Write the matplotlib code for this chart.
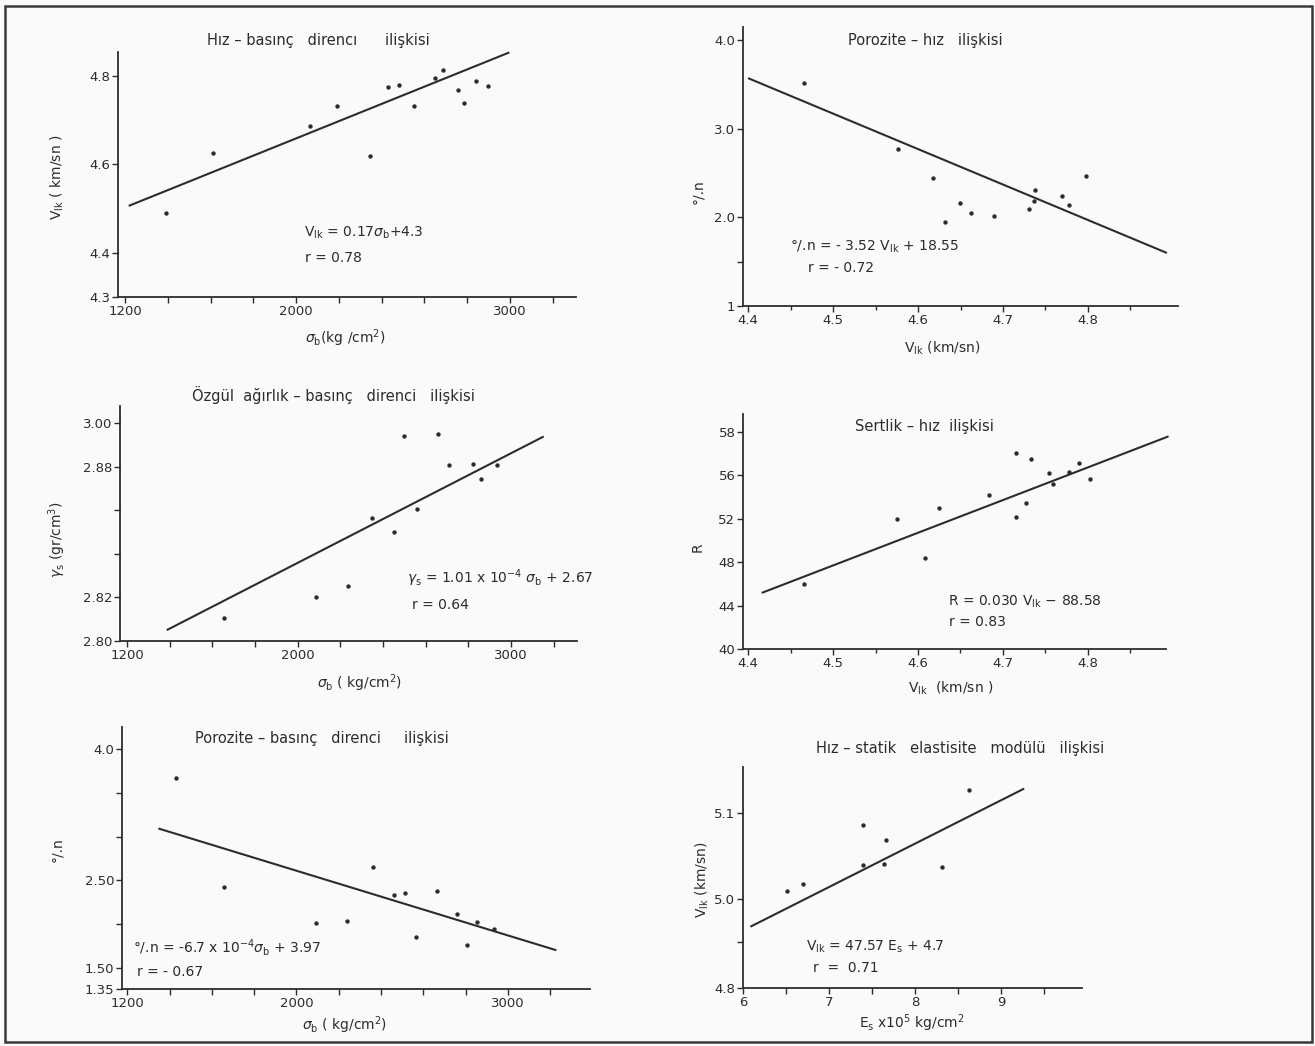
import matplotlib
matplotlib.use("Agg")
import matplotlib.pyplot as plt
from matplotlib.patches import Rectangle
import numpy as np

# ---------------- data ----------------
# 1) Hız - basınç direnci
sig1 = [1391, 1610, 2063, 2192, 2344, 2429, 2480, 2553, 2649, 2688, 2756, 2785, 2841, 2898]
vlk1 = [4.490, 4.626, 4.686, 4.731, 4.618, 4.774, 4.779, 4.732, 4.796, 4.814, 4.769, 4.739, 4.789, 4.777]
fit1_x = [1217, 2997]
fit1_y = [4.506, 4.853]

# 2) Porozite - hız
vlk2 = [4.466, 4.577, 4.618, 4.632, 4.649, 4.662, 4.690, 4.731, 4.736, 4.738, 4.769, 4.778, 4.798]
por2 = [3.51, 2.77, 2.44, 1.947, 2.16, 2.05, 2.02, 2.09, 2.18, 2.31, 2.24, 2.14, 2.47]
fit2_x = [4.400, 4.893]
fit2_y = [3.57, 1.598]

# 3) Özgül ağırlık - basınç direnci
sig3 = [1654, 2088, 2234, 2349, 2449, 2497, 2561, 2659, 2707, 2822, 2859, 2936]
gam3 = [2.821, 2.840, 2.851, 2.913, 2.900, 2.988, 2.921, 2.990, 2.962, 2.963, 2.949, 2.962]
fit3_x = [1386, 3153]
fit3_y = [2.810, 2.988]

# 4) Sertlik - hız
vlk4 = [4.466, 4.575, 4.608, 4.625, 4.684, 4.715, 4.715, 4.727, 4.733, 4.754, 4.759, 4.778, 4.790, 4.803]
sert4 = [46.0, 52.0, 48.4, 52.95, 54.2, 58.1, 52.2, 53.5, 57.5, 56.25, 55.2, 56.3, 57.1, 55.7]
fit4_x = [4.416, 4.895]
fit4_y = [45.17, 59.6]

# 5) Porozite - basınç direnci
sig5 = [1432, 1656, 2090, 2237, 2364, 2463, 2514, 2566, 2664, 2759, 2805, 2856, 2936]
por5 = [3.664, 2.42, 2.008, 2.034, 2.649, 2.328, 2.359, 1.859, 2.374, 2.111, 1.76, 2.019, 1.947]
fit5_x = [1347, 3229]
fit5_y = [3.092, 1.702]

# 6) Hız - statik elastisite modülü
es6 = [6.514, 6.70, 7.389, 7.397, 7.634, 7.665, 8.315, 8.63]
vlk6 = [5.009, 5.018, 5.086, 5.040, 5.041, 5.068, 5.037, 5.126]
fit6_x = [6.086, 9.268]
fit6_y = [4.968, 5.128]

# tick labels
p1_yticks, p1_ylabels = [4.3, 4.4, 4.6, 4.8], ["4.3", "4.4", "4.6", "4.8"]
p2_yticks, p2_ylabels = [1.0, 1.5, 2.0, 3.0, 4.0], ["1", "", "2.0", "3.0", "4.0"]
p3_yticks, p3_ylabels = [2.80, 2.84, 2.88, 2.92, 2.96, 3.00], ["2.80", "2.82", "", "", "2.88", "3.00"]
p4_yticks, p4_ylabels = [40, 44, 48, 52, 56, 60], ["40", "44", "48", "52", "56", "58"]
p5_yticks, p5_ylabels = [1.26, 1.5, 2.0, 2.5, 3.0, 3.5, 4.0], ["1.35", "1.50", "", "2.50", "", "", "4.0"]
p6_yticks, p6_ylabels = [4.897, 4.95, 5.0, 5.1], ["4.8", "", "5.0", "5.1"]
sig_ticks = list(range(1200, 3201, 200))
sig_labels = ["1200" if t == 1200 else "2000" if t == 2000 else "3000" if t == 3000 else "" for t in sig_ticks]
v_ticks = [4.4, 4.5, 4.6, 4.7, 4.8]
v_labels = ["4.4", "4.5", "4.6", "4.7", "4.8"]
es_ticks = [6, 6.5, 7, 7.5, 8, 8.5, 9, 9.5]
es_labels = ["6", "", "7", "", "8", "", "9", ""]

# ---------------- layout ----------------
W, H = 1315, 1046
INK = "#2c2c2c"
PAPER = "#f9fafa"
TITLE_SIZE = 10.5
plt.rcParams["font.family"] = ["DejaVu Sans"]
plt.rcParams["mathtext.fontset"] = "dejavusans"

fig = plt.figure(figsize=(W / 100, H / 100), dpi=100, facecolor=PAPER)


def px_axes(left, top, right, bottom):
    ax = fig.add_axes([left / W, 1 - bottom / H, (right - left) / W, (bottom - top) / H])
    ax.set_facecolor("none")
    for s in ("top", "right"):
        ax.spines[s].set_visible(False)
    for s in ("left", "bottom"):
        ax.spines[s].set_linewidth(1.3)
        ax.spines[s].set_color(INK)
    ax.tick_params(direction="out", length=4, width=1.0, colors=INK,
                   labelsize=9.5, pad=1.5)
    return ax


def ftext(x, y, s, **kw):
    kw.setdefault("color", INK)
    kw.setdefault("fontsize", 9.5)
    fig.text(x / W, 1 - y / H, s, **kw)


def draw(ax, xs, ys, fx, fy):
    ax.plot(fx, fy, color=INK, lw=1.5, solid_capstyle="butt", clip_on=False)
    ax.scatter(xs, ys, s=10, color=INK, zorder=3, clip_on=False, linewidths=0)


# panel 1
ax1 = px_axes(118, 52, 576, 297)
draw(ax1, sig1, vlk1, fit1_x, fit1_y)
ax1.set_xlim(1167, 3309)
ax1.set_ylim(4.3, 4.854)
ax1.set_xticks(sig_ticks, sig_labels)
ax1.set_yticks(p1_yticks, p1_ylabels)
ftext(318, 40, "Hız – basınç   direncı      ilişkisi", ha="center", va="center", fontsize=TITLE_SIZE)
ftext(57, 177, r"V$_{\rm lk}$ ( km/sn )", rotation=90, ha="center", va="center", fontsize=10)
ftext(345, 338, r"$\sigma_{\rm b}$(kg /cm$^2$)", ha="center", va="center", fontsize=10)
ftext(304, 233, r"V$_{\rm lk}$ = 0.17$\sigma_{\rm b}$+4.3", ha="left", va="center", fontsize=10)
ftext(305, 258, "r = 0.78", ha="left", va="center", fontsize=10)

# panel 2
ax2 = px_axes(743, 27, 1178, 306)
draw(ax2, vlk2, por2, fit2_x, fit2_y)
ax2.set_xlim(4.394, 4.906)
ax2.set_ylim(1.0, 4.147)
ax2.set_xticks(v_ticks, v_labels)
ax2.set_xticks([4.45, 4.55, 4.65, 4.75, 4.85], minor=True)
ax2.tick_params(which="minor", length=3, width=1.0, colors=INK)
ax2.set_yticks(p2_yticks, p2_ylabels)
ftext(925, 40, "Porozite – hız   ilişkisi", ha="center", va="center", fontsize=TITLE_SIZE)
ftext(698, 192, "°/.n", rotation=90, ha="center", va="center", fontsize=10)
ftext(942, 348, r"V$_{\rm lk}$ (km/sn)", ha="center", va="center", fontsize=10)
ftext(790, 247, r"°/.n = - 3.52 V$_{\rm lk}$ + 18.55", ha="left", va="center", fontsize=10)
ftext(808, 268, "r = - 0.72", ha="left", va="center", fontsize=10)

# panel 3
ax3 = px_axes(120, 406, 577, 641)
draw(ax3, sig3, gam3, fit3_x, fit3_y)
ax3.set_xlim(1167, 3309)
ax3.set_ylim(2.80, 3.016)
ax3.set_xticks(sig_ticks, sig_labels)
ax3.set_yticks(p3_yticks, p3_ylabels)
ftext(333, 395, "Özgül  ağırlık – basınç   direnci   ilişkisi", ha="center", va="center", fontsize=TITLE_SIZE)
ftext(57, 540, r"$\gamma_{\rm s}$ (gr/cm$^3$)", rotation=90, ha="center", va="center", fontsize=10)
ftext(360, 683, r"$\sigma_{\rm b}$ ( kg/cm$^2$)", ha="center", va="center", fontsize=10)
ftext(407, 578, r"$\gamma_{\rm s}$ = 1.01 x 10$^{-4}$ $\sigma_{\rm b}$ + 2.67", ha="left", va="center", fontsize=10)
ftext(412, 605, "r = 0.64", ha="left", va="center", fontsize=10)

# panel 4
ax4 = px_axes(743, 414, 1166, 649)
draw(ax4, vlk4, sert4, fit4_x, fit4_y)
ax4.set_xlim(4.394, 4.892)
ax4.set_ylim(40, 61.66)
ax4.set_xticks(v_ticks, v_labels)
ax4.set_xticks([4.45, 4.55, 4.65, 4.75, 4.85], minor=True)
ax4.tick_params(which="minor", length=3, width=1.0, colors=INK)
ax4.set_yticks(p4_yticks, p4_ylabels)
ftext(924, 427, "Sertlik – hız  ilişkisi", ha="center", va="center", fontsize=TITLE_SIZE)
ftext(698, 547, "R", rotation=90, ha="center", va="center", fontsize=10)
ftext(951, 688, r"V$_{\rm lk}$  (km/sn )", ha="center", va="center", fontsize=10)
ftext(948, 602, r"R = 0.030 V$_{\rm lk}$ − 88.58", ha="left", va="center", fontsize=10)
ftext(949, 622, "r = 0.83", ha="left", va="center", fontsize=10)

# panel 5
ax5 = px_axes(122, 727, 590, 989)
draw(ax5, sig5, por5, fit5_x, fit5_y)
ax5.set_xlim(1175, 3388)
ax5.set_ylim(1.26, 4.25)
ax5.set_xticks(sig_ticks, sig_labels)
ax5.set_yticks(p5_yticks, p5_ylabels)
ftext(322, 738, "Porozite – basınç   direnci     ilişkisi", ha="center", va="center", fontsize=TITLE_SIZE)
ftext(57, 850, "°/.n", rotation=90, ha="center", va="center", fontsize=10)
ftext(345, 1025, r"$\sigma_{\rm b}$ ( kg/cm$^2$)", ha="center", va="center", fontsize=10)
ftext(133, 948, r"°/.n = -6.7 x 10$^{-4}$$\sigma_{\rm b}$ + 3.97", ha="left", va="center", fontsize=10)
ftext(137, 972, "r = - 0.67", ha="left", va="center", fontsize=10)

# panel 6
ax6 = px_axes(743, 767, 1082, 988)
draw(ax6, es6, vlk6, fit6_x, fit6_y)
ax6.set_xlim(6.0, 9.94)
ax6.set_ylim(4.897, 5.153)
ax6.set_xticks(es_ticks, es_labels)
ax6.set_yticks(p6_yticks, p6_ylabels)
ftext(960, 748, "Hız – statik   elastisite   modülü   ilişkisi", ha="center", va="center", fontsize=TITLE_SIZE)
ftext(702, 880, r"V$_{\rm lk}$ (km/sn)", rotation=90, ha="center", va="center", fontsize=10)
ftext(912, 1023, r"E$_{\rm s}$ x10$^5$ kg/cm$^2$", ha="center", va="center", fontsize=10)
ftext(806, 947, r"V$_{\rm lk}$ = 47.57 E$_{\rm s}$ + 4.7", ha="left", va="center", fontsize=10)
ftext(813, 968, "r  =  0.71", ha="left", va="center", fontsize=10)

# page frame
fig.patches.append(Rectangle((5 / W, 1 - 1042 / H), (1312 - 5) / W, (1042 - 6) / H,
                             transform=fig.transFigure, fill=False,
                             edgecolor="#3a3a3a", linewidth=1.8))

fig.savefig("out.png", dpi=100, facecolor=PAPER)
